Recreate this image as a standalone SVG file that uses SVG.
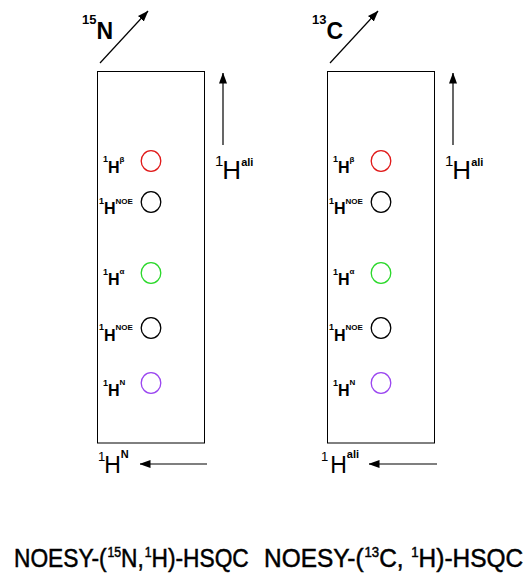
<svg xmlns="http://www.w3.org/2000/svg" width="526" height="578" viewBox="0 0 526 578">
<style>
text{font-family:"Liberation Sans",Arial,sans-serif;fill:#000}
.box{fill:none;stroke:#000;stroke-width:1}
.pk{fill:none;stroke-width:1.3}
.arr{stroke:#000;stroke-width:1.2;fill:none;marker-end:url(#ah)}
.sm{font-size:9px;font-weight:bold}
.lh{font-size:16px;font-weight:bold}
.sup{font-size:8px;font-weight:bold}
.ttl{font-size:26px;stroke:#000;stroke-width:0.5}
</style>
<defs>
<marker id="ah" markerUnits="userSpaceOnUse" markerWidth="11" markerHeight="8" refX="10.5" refY="4" orient="auto">
<path d="M0,0 L11,4 L0,8 z" fill="#000"/>
</marker>
</defs>
<rect width="526" height="578" fill="#fff"/>

<g id="connectors">
<line class="arr" x1="100" y1="63" x2="148" y2="11"/>
<line class="arr" x1="330" y1="63" x2="378" y2="11"/>
<line class="arr" x1="223" y1="145" x2="223" y2="73"/>
<line class="arr" x1="453" y1="145" x2="453" y2="73"/>
<line class="arr" x1="207" y1="464" x2="140" y2="464"/>
<line class="arr" x1="437" y1="464" x2="369" y2="464"/>
</g>

<g id="panel-N">
<rect class="box" x="97.5" y="71.5" width="107" height="371.5"/>
<text id="label-15N" x="82" y="23.5" font-weight="bold"><tspan font-size="13">15</tspan><tspan font-size="23" dy="15">N</tspan></text>
<text id="axis-Hali-N" x="215" y="166"><tspan font-size="15">1</tspan><tspan font-size="26" dx="-1" dy="12.5">H</tspan><tspan font-size="11" font-weight="bold" dy="-12.5">ali</tspan></text>
<text id="axis-HN" x="98" y="461"><tspan font-size="13">1</tspan><tspan font-size="23" dx="-1" dy="12">H</tspan><tspan font-size="11" font-weight="bold" dy="-15">N</tspan></text>
<g id="N-Hbeta"><ellipse class="pk" cx="151" cy="161" rx="9.8" ry="10.3" stroke="#e01818"/>
<text x="103" y="162"><tspan class="sm">1</tspan><tspan class="lh" dy="10.5">H</tspan><tspan class="sup" dy="-11">β</tspan></text></g>
<g id="N-HNOE1"><ellipse class="pk" cx="151" cy="202" rx="9.8" ry="10.3" stroke="#000"/>
<text x="99" y="203.5"><tspan class="sm">1</tspan><tspan class="lh" dy="10.5">H</tspan><tspan class="sup" dy="-10.5">NOE</tspan></text></g>
<g id="N-Halpha"><ellipse class="pk" cx="151" cy="273" rx="9.8" ry="10.3" stroke="#2ad82a"/>
<text x="103" y="274.5"><tspan class="sm">1</tspan><tspan class="lh" dy="10.5">H</tspan><tspan class="sup" dy="-11">α</tspan></text></g>
<g id="N-HNOE2"><ellipse class="pk" cx="151" cy="328" rx="9.8" ry="10.3" stroke="#000"/>
<text x="99" y="330"><tspan class="sm">1</tspan><tspan class="lh" dy="10.5">H</tspan><tspan class="sup" dy="-10.5">NOE</tspan></text></g>
<g id="N-HN"><ellipse class="pk" cx="151" cy="383" rx="9.8" ry="10.3" stroke="#9a45f0"/>
<text x="103" y="385.5"><tspan class="sm">1</tspan><tspan class="lh" dy="10.5">H</tspan><tspan class="sup" dy="-11">N</tspan></text></g>
</g>

<g id="panel-C">
<rect class="box" x="327.5" y="71.5" width="107" height="371.5"/>
<text id="label-13C" x="312" y="23.5" font-weight="bold"><tspan font-size="13">13</tspan><tspan font-size="23" dy="15">C</tspan></text>
<text id="axis-Hali-C" x="445" y="166"><tspan font-size="15">1</tspan><tspan font-size="26" dx="-1" dy="12.5">H</tspan><tspan font-size="11" font-weight="bold" dy="-12.5">ali</tspan></text>
<text id="axis-Hali-bottom" x="321" y="461"><tspan font-size="13">1</tspan><tspan font-size="23" dx="2" dy="12">H</tspan><tspan font-size="11" font-weight="bold" dy="-15">ali</tspan></text>
<g id="C-Hbeta"><ellipse class="pk" cx="381" cy="161" rx="9.8" ry="10.3" stroke="#e01818"/>
<text x="333" y="162"><tspan class="sm">1</tspan><tspan class="lh" dy="10.5">H</tspan><tspan class="sup" dy="-11">β</tspan></text></g>
<g id="C-HNOE1"><ellipse class="pk" cx="381" cy="202" rx="9.8" ry="10.3" stroke="#000"/>
<text x="329" y="203.5"><tspan class="sm">1</tspan><tspan class="lh" dy="10.5">H</tspan><tspan class="sup" dy="-10.5">NOE</tspan></text></g>
<g id="C-Halpha"><ellipse class="pk" cx="381" cy="273" rx="9.8" ry="10.3" stroke="#2ad82a"/>
<text x="333" y="274.5"><tspan class="sm">1</tspan><tspan class="lh" dy="10.5">H</tspan><tspan class="sup" dy="-11">α</tspan></text></g>
<g id="C-HNOE2"><ellipse class="pk" cx="381" cy="328" rx="9.8" ry="10.3" stroke="#000"/>
<text x="329" y="330"><tspan class="sm">1</tspan><tspan class="lh" dy="10.5">H</tspan><tspan class="sup" dy="-10.5">NOE</tspan></text></g>
<g id="C-HN"><ellipse class="pk" cx="381" cy="383" rx="9.8" ry="10.3" stroke="#9a45f0"/>
<text x="333" y="385.5"><tspan class="sm">1</tspan><tspan class="lh" dy="10.5">H</tspan><tspan class="sup" dy="-11">N</tspan></text></g>
</g>

<g id="titles">
<text id="title-N" class="ttl" transform="translate(14,567) scale(0.875,1)">NOESY-(<tspan font-size="14" dx="1" dy="-10">15</tspan><tspan dy="10">N,</tspan><tspan font-size="14" dx="1" dy="-10">1</tspan><tspan dy="10">H)-HSQC</tspan></text>
<text id="title-C" class="ttl" transform="translate(264,567) scale(0.94,1)">NOESY-(<tspan font-size="14" dx="1" dy="-10">13</tspan><tspan dy="10">C, </tspan><tspan font-size="14" dx="1" dy="-10">1</tspan><tspan dy="10">H)-HSQC</tspan></text>
</g>
</svg>
